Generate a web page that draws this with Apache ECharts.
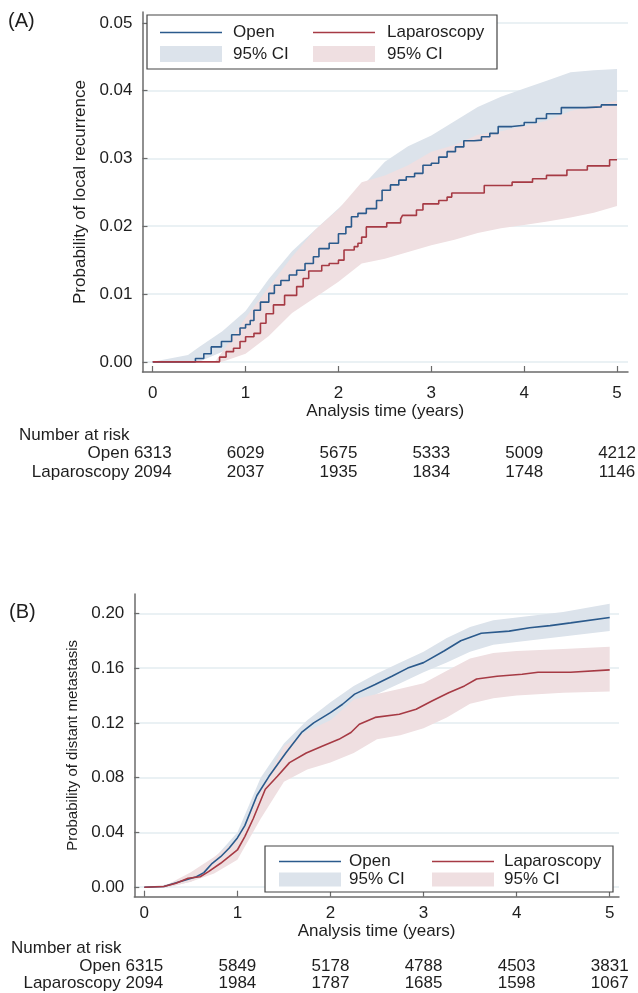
<!DOCTYPE html>
<html>
<head>
<meta charset="utf-8">
<script src="https://cdn.jsdelivr.net/npm/echarts@6/dist/echarts.min.js"></script>
<style>
html, body { margin: 0; padding: 0; background: #fff; }
#chart { width: 638px; height: 993px; }
</style>
</head>
<body>
<div id="chart"></div>
<script>
const FONT = '"Liberation Sans", Arial, sans-serif';
const TEXT = '#1e1e1e';
const OPEN_COLOR = '#2b5a8c';
const LAP_COLOR = '#a63a44';
const OPEN_BAND = '#dce3eb';
const LAP_BAND = '#efdfe1';
const GRID_LINE = '#e3edf0';
const AXIS_COLOR = '#6b6b6b';

// ticks
const xTicks = [0, 1, 2, 3, 4, 5];
const yTicksA = [0, 0.01, 0.02, 0.03, 0.04, 0.05];
const yTicksB = [0, 0.04, 0.08, 0.12, 0.16, 0.20];

// (A) local recurrence - estimates
const openTimeA = [0, 0.38, 0.46, 0.55, 0.63, 0.74, 0.85, 0.94, 1.0, 1.05, 1.09, 1.16, 1.25, 1.31, 1.38, 1.47, 1.55, 1.64, 1.73, 1.79, 1.90, 2.0, 2.08, 2.14, 2.21, 2.30, 2.41, 2.47, 2.56, 2.65, 2.73, 2.82, 2.91, 3.0, 3.08, 3.17, 3.26, 3.35, 3.46, 3.54, 3.63, 3.72, 3.87, 4.0, 4.13, 4.24, 4.40, 4.66, 4.83, 5.0];
const openProbA = [0, 0, 0.0005, 0.0012, 0.0022, 0.003, 0.004, 0.005, 0.0055, 0.0061, 0.0076, 0.0088, 0.0101, 0.0113, 0.012, 0.0128, 0.0135, 0.0145, 0.0155, 0.0167, 0.0175, 0.0189, 0.0199, 0.0214, 0.0219, 0.0226, 0.0238, 0.0253, 0.0261, 0.0268, 0.0273, 0.0278, 0.029, 0.0293, 0.0302, 0.031, 0.0317, 0.0326, 0.0327, 0.0332, 0.0337, 0.0347, 0.0349, 0.0353, 0.0359, 0.0366, 0.0375, 0.0376, 0.0379, 0.038];
const lapTimeA = [0, 0.67, 0.72, 0.79, 0.87, 0.94, 1.0, 1.09, 1.16, 1.22, 1.30, 1.42, 1.55, 1.62, 1.68, 1.82, 1.90, 2.0, 2.06, 2.17, 2.21, 2.25, 2.30, 2.52, 2.67, 2.69, 2.84, 2.91, 3.08, 3.17, 3.22, 3.57, 3.87, 4.09, 4.24, 4.46, 4.68, 4.92, 5.0];
const lapProbA = [0, 0, 0.0007, 0.0015, 0.002, 0.003, 0.0037, 0.0042, 0.0057, 0.0071, 0.0084, 0.0098, 0.0111, 0.0123, 0.0134, 0.0142, 0.0145, 0.015, 0.0165, 0.017, 0.0175, 0.0184, 0.0199, 0.0205, 0.0211, 0.0216, 0.0224, 0.0233, 0.0238, 0.0243, 0.0249, 0.026, 0.0265, 0.027, 0.0275, 0.0283, 0.0289, 0.0298, 0.0298];

// (A) 95% CI
const openCiTimeA = [0, 0.38, 0.5, 0.75, 1.0, 1.25, 1.5, 1.75, 2.0, 2.25, 2.5, 2.75, 3.0, 3.25, 3.5, 3.75, 4.0, 4.25, 4.5, 4.75, 5.0];
const openLoA = [0, 0, 0, 0.0015, 0.004, 0.008, 0.0105, 0.0125, 0.0155, 0.0185, 0.021, 0.023, 0.025, 0.0272, 0.0288, 0.0298, 0.0305, 0.0313, 0.0322, 0.0328, 0.0332];
const openHiA = [0, 0.001, 0.0022, 0.0045, 0.0075, 0.0122, 0.0163, 0.0195, 0.0226, 0.0258, 0.0295, 0.0318, 0.0334, 0.0355, 0.0376, 0.0391, 0.0403, 0.0415, 0.0427, 0.043, 0.0432];
const lapCiTimeA = [0, 0.67, 0.75, 1.0, 1.25, 1.5, 1.75, 2.0, 2.25, 2.5, 2.75, 3.0, 3.25, 3.5, 3.75, 4.0, 4.25, 4.5, 4.75, 5.0];
const lapLoA = [0, 0, 0, 0.0012, 0.0038, 0.0072, 0.0095, 0.0118, 0.0145, 0.0152, 0.0162, 0.0172, 0.018, 0.019, 0.0197, 0.0202, 0.0207, 0.0213, 0.022, 0.023];
const lapHiA = [0, 0, 0.0015, 0.0065, 0.011, 0.0155, 0.0195, 0.0225, 0.0265, 0.0275, 0.029, 0.031, 0.032, 0.0335, 0.034, 0.0348, 0.0356, 0.037, 0.0378, 0.0385];

// (B) distant metastasis - estimates
const openTimeB = [0, 0.21, 0.38, 0.56, 0.64, 0.73, 0.82, 0.91, 1.0, 1.08, 1.21, 1.34, 1.52, 1.69, 1.82, 2.0, 2.13, 2.26, 2.48, 2.66, 2.83, 3.0, 3.22, 3.40, 3.62, 3.92, 4.14, 4.36, 4.58, 5.0];
const openProbB = [0, 0.0005, 0.004, 0.0077, 0.0107, 0.0175, 0.0223, 0.0285, 0.036, 0.045, 0.067, 0.081, 0.098, 0.113, 0.120, 0.1275, 0.1336, 0.141, 0.148, 0.154, 0.160, 0.164, 0.1725, 0.180, 0.1855, 0.187, 0.1895, 0.191, 0.193, 0.197];
const lapTimeB = [0, 0.21, 0.34, 0.47, 0.60, 0.69, 0.82, 0.91, 1.0, 1.08, 1.17, 1.30, 1.43, 1.56, 1.74, 1.91, 2.09, 2.22, 2.31, 2.48, 2.74, 2.92, 3.09, 3.27, 3.44, 3.57, 3.79, 4.06, 4.23, 4.58, 5.0];
const lapProbB = [0, 0.0005, 0.0029, 0.0066, 0.0077, 0.0114, 0.0175, 0.0223, 0.0272, 0.037, 0.050, 0.0716, 0.081, 0.091, 0.098, 0.103, 0.108, 0.113, 0.119, 0.124, 0.1263, 0.130, 0.136, 0.142, 0.147, 0.152, 0.154, 0.1555, 0.157, 0.157, 0.1587];

// (B) 95% CI
const ciTimeB = [0, 0.25, 0.5, 0.75, 1.0, 1.25, 1.5, 1.75, 2.0, 2.25, 2.5, 2.75, 3.0, 3.25, 3.5, 3.75, 4.0, 4.5, 5.0];
const openLoB = [0, 0, 0.004, 0.013, 0.030, 0.066, 0.091, 0.108, 0.120, 0.132, 0.141, 0.149, 0.157, 0.164, 0.172, 0.177, 0.179, 0.183, 0.187];
const openHiB = [0, 0.002, 0.009, 0.021, 0.040, 0.080, 0.105, 0.122, 0.135, 0.147, 0.156, 0.164, 0.172, 0.182, 0.190, 0.195, 0.197, 0.201, 0.207];
const lapLoB = [0, 0, 0.004, 0.010, 0.020, 0.050, 0.077, 0.086, 0.091, 0.098, 0.108, 0.111, 0.116, 0.124, 0.134, 0.138, 0.140, 0.142, 0.143];
const lapHiB = [0, 0.002, 0.011, 0.022, 0.035, 0.070, 0.103, 0.114, 0.122, 0.137, 0.141, 0.145, 0.149, 0.158, 0.167, 0.171, 0.1725, 0.174, 0.1755];

// number at risk
const riskOpenA = [6313, 6029, 5675, 5333, 5009, 4212];
const riskLapA = [2094, 2037, 1935, 1834, 1748, 1146];
const riskOpenB = [6315, 5849, 5178, 4788, 4503, 3831];
const riskLapB = [2094, 1984, 1787, 1685, 1598, 1067];

const chart = echarts.init(document.getElementById('chart'));

const zip = (t, v) => t.map((x, i) => [x, v[i]]);

// CI band drawn as one polygon through the axis scales
function band(idx, t, lo, hi, color) {
    return {
        type: 'custom', xAxisIndex: idx, yAxisIndex: idx, silent: true, z: 1,
        data: t.map((x, i) => [x, lo[i], hi[i]]),
        encode: {x: 0, y: [1, 2]},
        renderItem: function (params, api) {
            if (params.dataIndex !== 0) return;
            const upper = t.map((x, i) => api.coord([x, hi[i]]));
            const lower = t.map((x, i) => api.coord([x, lo[i]])).reverse();
            return {
                type: 'polygon',
                shape: {points: upper.concat(lower)},
                style: {fill: color, stroke: null}
            };
        }
    };
}

function curve(idx, t, p, color, step) {
    return {
        type: 'line', xAxisIndex: idx, yAxisIndex: idx, symbol: 'none', step: step, z: 3,
        lineStyle: {color: color, width: 1.6}, data: zip(t, p)
    };
}

function xAxisCfg(idx, min, max, labelMargin, nameGap) {
    return {
        type: 'value', gridIndex: idx, min: min, max: max,
        name: 'Analysis time (years)', nameLocation: 'middle', nameGap: nameGap,
        nameTextStyle: {fontSize: 17, color: TEXT, fontFamily: FONT},
        axisLine: {show: true, onZero: false, lineStyle: {color: AXIS_COLOR, width: 1.5}},
        axisTick: {show: true, inside: true, length: 6, customValues: xTicks, lineStyle: {color: AXIS_COLOR, width: 1.2}},
        axisLabel: {customValues: xTicks, margin: labelMargin, fontSize: 17, color: TEXT, fontFamily: FONT},
        splitLine: {show: false}
    };
}

function yAxisCfg(idx, min, max, ticks, name, nameSize, nameGap) {
    return {
        type: 'value', gridIndex: idx, min: min, max: max,
        name: name, nameLocation: 'middle', nameGap: nameGap,
        nameTextStyle: {fontSize: nameSize, color: TEXT, fontFamily: FONT},
        axisLine: {show: true, onZero: false, lineStyle: {color: AXIS_COLOR, width: 1.5}},
        axisTick: {show: true, inside: true, length: 5, customValues: ticks, lineStyle: {color: AXIS_COLOR, width: 1.2}},
        axisLabel: {customValues: ticks, margin: 10, fontSize: 17, color: TEXT, fontFamily: FONT,
            formatter: v => v.toFixed(2)},
        splitLine: {show: true, lineStyle: {color: GRID_LINE, width: 1.5}}
    };
}

chart.setOption({
    animation: false,
    backgroundColor: '#fff',
    grid: [
        {left: 142.5, right: 10, top: 12, bottom: 621, outerBoundsMode: 'none'},
        {left: 134.3, right: 19, top: 594, bottom: 96.3, outerBoundsMode: 'none'}
    ],
    xAxis: [
        xAxisCfg(0, -0.11, 5.118, 13, 28),
        xAxisCfg(1, -0.1075, 5.1, 8, 22)
    ],
    yAxis: [
        yAxisCfg(0, -0.0015, 0.0516, yTicksA, 'Probability of local recurrence', 17, 47),
        yAxisCfg(1, -0.0069, 0.2141, yTicksB, 'Probability of distant metastasis', 15, 50)
    ],
    series: [
        band(0, openCiTimeA, openLoA, openHiA, OPEN_BAND),
        band(0, lapCiTimeA, lapLoA, lapHiA, LAP_BAND),
        curve(0, openTimeA, openProbA, OPEN_COLOR, 'end'),
        curve(0, lapTimeA, lapProbA, LAP_COLOR, 'end'),
        band(1, ciTimeB, openLoB, openHiB, OPEN_BAND),
        band(1, ciTimeB, lapLoB, lapHiB, LAP_BAND),
        curve(1, openTimeB, openProbB, OPEN_COLOR, false),
        curve(1, lapTimeB, lapProbB, LAP_COLOR, false)
    ]
});

// texts, legends and risk tables
const txt = (s, x, y, align, size) => ({
    type: 'text', x: x, y: y, silent: true, z: 100,
    style: {text: s, fill: TEXT, font: (size || 17) + 'px ' + FONT, align: align || 'left', verticalAlign: 'middle'}
});

function legendBox(x, y, w, h, colX, textX, row1, row2, swH) {
    return [
        {type: 'rect', z: 99, shape: {x: x, y: y, width: w, height: h}, style: {fill: '#fff', stroke: '#444', lineWidth: 1.2}},
        {type: 'line', z: 100, shape: {x1: colX[0], y1: row1, x2: colX[0] + 62, y2: row1}, style: {stroke: OPEN_COLOR, lineWidth: 1.6}},
        {type: 'line', z: 100, shape: {x1: colX[1], y1: row1, x2: colX[1] + 62, y2: row1}, style: {stroke: LAP_COLOR, lineWidth: 1.6}},
        {type: 'rect', z: 100, shape: {x: colX[0], y: row2 - swH / 2, width: 62, height: swH}, style: {fill: OPEN_BAND}},
        {type: 'rect', z: 100, shape: {x: colX[1], y: row2 - swH / 2, width: 62, height: swH}, style: {fill: LAP_BAND}},
        txt('Open', textX[0], row1),
        txt('Laparoscopy', textX[1], row1),
        txt('95% CI', textX[0], row2),
        txt('95% CI', textX[1], row2)
    ];
}

function riskTable(idx, headX, headY, openY, lapY, openRow, lapRow) {
    const px = t => chart.convertToPixel({xAxisIndex: idx}, t);
    const out = [txt('Number at risk', headX, headY)];
    const x0 = px(xTicks[0]);
    out.push(txt('Open ' + openRow[0], x0 + 19, openY, 'right'));
    out.push(txt('Laparoscopy ' + lapRow[0], x0 + 19, lapY, 'right'));
    for (let i = 1; i < xTicks.length; i++) {
        const x = px(xTicks[i]);
        out.push(txt(String(openRow[i]), x, openY, 'center'));
        out.push(txt(String(lapRow[i]), x, lapY, 'center'));
    }
    return out;
}

chart.setOption({
    graphic: [].concat(
        [txt('(A)', 8, 21, 'left', 20), txt('(B)', 9, 612, 'left', 20)],
        legendBox(147, 15, 350, 54, [160, 313], [233, 387], 32.5, 54, 16),
        legendBox(265, 846, 348, 46, [279, 432], [349, 504], 861.5, 879.5, 14),
        riskTable(0, 19, 435, 453, 472, riskOpenA, riskLapA),
        riskTable(1, 11, 948, 966, 983, riskOpenB, riskLapB)
    )
});
</script>
</body>
</html>
